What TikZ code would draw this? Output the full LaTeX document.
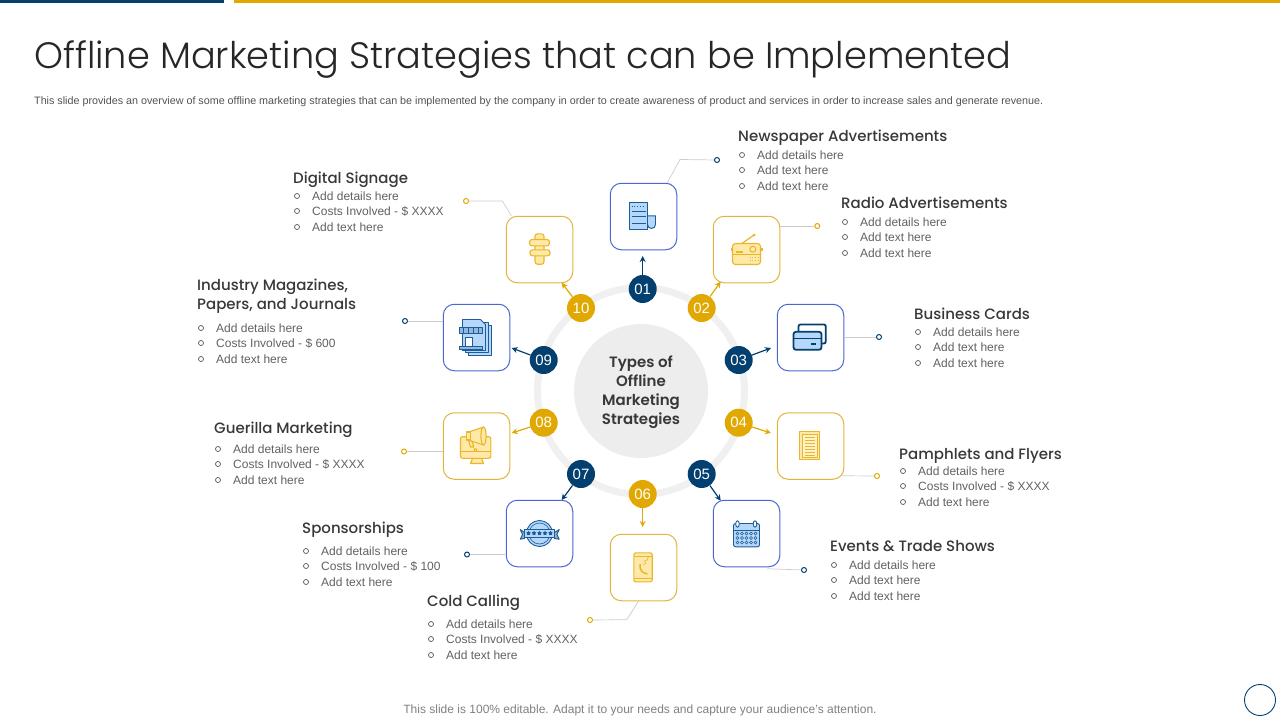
\documentclass[tikz,border=0pt]{standalone}
\usepackage{fontspec}
\setmainfont{Liberation Sans}
\newfontfamily\titlefont{Poppins Light}
\newfontfamily\headfont{Poppins Medium}
\newfontfamily\middlefont{Poppins SemiBold}
\usetikzlibrary{arrows.meta,shapes.geometric}

\definecolor{navy}{HTML}{03406F}
\definecolor{gold}{HTML}{E0A800}
\definecolor{iconblue}{HTML}{B5D8FA}
\definecolor{iconline}{HTML}{1C5C98}
\definecolor{iconyellow}{HTML}{FFE9A8}
\definecolor{iconedge}{HTML}{EAB62A}
\definecolor{tileblue}{HTML}{4B67D1}
\definecolor{tilegold}{HTML}{E3B43C}

\tikzset{
  tile/.style={draw, rounded corners=11pt, minimum size=66.5pt, line width=1pt, fill=white},
  bluetile/.style={tile, draw=tileblue},
  goldtile/.style={tile, draw=tilegold},
  badge/.style={circle, minimum size=28pt, inner sep=0pt, text=white, font=\fontsize{15}{15}\selectfont},
  navybadge/.style={badge, fill=navy},
  goldbadge/.style={badge, fill=gold},
  navyarrow/.style={draw=navy, line width=1.2pt, -{Stealth[length=6pt,width=6pt]}},
  goldarrow/.style={draw=gold, line width=1.2pt, -{Stealth[length=6pt,width=6pt]}},
  leader/.style={draw=black!20, line width=.7pt},
  navydot/.style={circle, draw=navy, fill=white, line width=1pt, minimum size=5pt, inner sep=0pt},
  golddot/.style={circle, draw=gold, fill=white, line width=1pt, minimum size=5pt, inner sep=0pt},
  heading/.style={anchor=base west, inner sep=0pt, text=black!78, font=\headfont\fontsize{15}{19}\selectfont},
  itemtext/.style={anchor=base west, inner sep=0pt, text=black!62, font=\fontsize{12}{14}\selectfont},
  itemdot/.style={circle, draw=black!66, line width=.7pt, minimum size=5pt, inner sep=0pt},
  blueicon/.style={draw=iconline, fill=iconblue, line width=.9pt, line join=round},
  goldicon/.style={draw=iconedge, fill=iconyellow, line width=1.1pt, line join=round},
}
\newcommand{\itemrow}[4]{%
  \node[itemdot] (#1d) at (#2-15,#3) {};
  \node[itemtext] (#1) at (#2,#3+4.3) {#4};
}

\begin{document}
\begin{tikzpicture}[x=1pt,y=-1pt]
  \useasboundingbox (0,0) rectangle (1280,720);
  \fill[navy] (0,0) rectangle (224,3);
  \fill[gold] (234,0) rectangle (1280,3);
  \node[anchor=west, inner sep=0pt, text=black!85, font=\titlefont\fontsize{36.75}{40}\selectfont] (title) at (34,59.5) {Offline Marketing Strategies that can be Implemented};
  \node[anchor=west, inner sep=0pt, text=black!68, font=\fontsize{10.75}{12}\selectfont] (subtitle) at (34,101.5) {This slide provides an overview of some offline marketing strategies that can be implemented  by the company in order to create awareness of product and services in order to increase sales and generate revenue.};

  % ring and middle
  \draw[black!6, line width=7pt] (641,391) circle (103.5);
  \node[circle, fill=black!7, minimum size=134pt, inner sep=0pt] (middle) at (641,391) {};
  \node[inner sep=0pt, align=center, text=black!78, font=\middlefont\fontsize{15}{19}\selectfont] (middletext) at (641,392.5) {Types of\\Offline\\Marketing\\Strategies};

  % tiles
  \node[bluetile] (tile01) at (643.5,216.5) {};
  \node[goldtile] (tile02) at (746.5,249.5) {};
  \node[bluetile] (tile03) at (810.5,337.5) {};
  \node[goldtile] (tile04) at (810.5,446) {};
  \node[bluetile] (tile05) at (746.5,533.5) {};
  \node[goldtile] (tile06) at (643.5,567.5) {};
  \node[bluetile] (tile07) at (539.5,533.5) {};
  \node[goldtile] (tile08) at (476.5,446) {};
  \node[bluetile] (tile09) at (476.5,337.5) {};
  \node[goldtile] (tile10) at (539.5,249.5) {};

  % badges
  \node[navybadge] (num01) at (642.7,289) {01};
  \node[goldbadge] (num02) at (701.7,308) {02};
  \node[navybadge] (num03) at (738.7,360) {03};
  \node[goldbadge] (num04) at (738.7,422.7) {04};
  \node[navybadge] (num05) at (701.7,474) {05};
  \node[goldbadge] (num06) at (642.7,494) {06};
  \node[navybadge] (num07) at (581,474) {07};
  \node[goldbadge] (num08) at (543.7,422.7) {08};
  \node[navybadge] (num09) at (543.7,360) {09};
  \node[goldbadge] (num10) at (581,308) {10};

  % arrows
  \coordinate (tip01) at (642.7,256);
  \coordinate (tip02) at (720.7,281.7);
  \coordinate (tip03) at (771,348);
  \coordinate (tip04) at (771,433);
  \coordinate (tip05) at (720.7,500.7);
  \coordinate (tip06) at (642.7,527);
  \coordinate (tip07) at (561.7,500);
  \coordinate (tip08) at (511.7,433);
  \coordinate (tip09) at (511.7,348);
  \coordinate (tip10) at (561.7,282.7);
  \draw[navyarrow] (num01) -- (tip01);
  \draw[goldarrow] (num02) -- (tip02);
  \draw[navyarrow] (num03) -- (tip03);
  \draw[goldarrow] (num04) -- (tip04);
  \draw[navyarrow] (num05) -- (tip05);
  \draw[goldarrow] (num06) -- (tip06);
  \draw[navyarrow] (num07) -- (tip07);
  \draw[goldarrow] (num08) -- (tip08);
  \draw[navyarrow] (num09) -- (tip09);
  \draw[goldarrow] (num10) -- (tip10);

  % leaders
  \node[navydot] (dot01) at (717,160) {};
  \node[golddot] (dot02) at (817.3,226) {};
  \node[navydot] (dot03) at (879,337) {};
  \node[golddot] (dot04) at (877,476) {};
  \node[navydot] (dot05) at (804,570) {};
  \node[golddot] (dot06) at (590,620) {};
  \node[navydot] (dot07) at (467,554.5) {};
  \node[golddot] (dot08) at (404,451.5) {};
  \node[navydot] (dot09) at (405,321) {};
  \node[golddot] (dot10) at (466,201) {};
  \draw[leader] (tile01.north east) ++(-10,0) -- (680,159.5) -- (dot01);
  \draw[leader] (tile02.east |- dot02) -- (dot02);
  \draw[leader] (tile03.east |- dot03) -- (dot03);
  \draw[leader] (tile04.south east) ++(-4,-4) -- (dot04);
  \draw[leader] (tile05.south east) ++(-13,1.5) -- (dot05);
  \draw[leader] (tile06.south) ++(-5,0) -- (626.7,619.7) -- (dot06);
  \draw[leader] (tile07.west |- dot07) ++(-1,0) -- (dot07);
  \draw[leader] (tile08.west |- dot08) -- (dot08);
  \draw[leader] (tile09.west |- dot09) -- (dot09);
  \draw[leader] (tile10.north west) ++(5.7,0) -- (502.3,201) -- (dot10);

  % text blocks
  \node[heading] (head01) at (738,141.7) {Newspaper Advertisements};
  \itemrow{a1}{757}{155}{Add details here}
  \itemrow{a2}{757}{170}{Add text here}
  \itemrow{a3}{757}{186}{Add text here}
  \node[heading] (head02) at (841,208) {Radio Advertisements};
  \itemrow{b1}{860}{222}{Add details here}
  \itemrow{b2}{860}{237}{Add text here}
  \itemrow{b3}{860}{253}{Add text here}
  \node[heading] (head03) at (914,319) {Business Cards};
  \itemrow{c1}{933}{332}{Add details here}
  \itemrow{c2}{933}{347}{Add text here}
  \itemrow{c3}{933}{363}{Add text here}
  \node[heading] (head04) at (899,459) {Pamphlets and Flyers};
  \itemrow{d1}{918}{471}{Add details here}
  \itemrow{d2}{918}{486}{Costs Involved - \$ XXXX}
  \itemrow{d3}{918}{502}{Add text here}
  \node[heading] (head05) at (830,551) {Events \& Trade Shows};
  \itemrow{e1}{849}{565}{Add details here}
  \itemrow{e2}{849}{580}{Add text here}
  \itemrow{e3}{849}{596}{Add text here}
  \node[heading] (head06) at (427,606) {Cold Calling};
  \itemrow{f1}{446}{624}{Add details here}
  \itemrow{f2}{446}{639}{Costs Involved - \$ XXXX}
  \itemrow{f3}{446}{655}{Add text here}
  \node[heading] (head07) at (302,533) {Sponsorships};
  \itemrow{g1}{321}{551}{Add details here}
  \itemrow{g2}{321}{566}{Costs Involved - \$ 100}
  \itemrow{g3}{321}{582}{Add text here}
  \node[heading] (head08) at (214,433) {Guerilla Marketing};
  \itemrow{h1}{233}{449}{Add details here}
  \itemrow{h2}{233}{464}{Costs Involved - \$ XXXX}
  \itemrow{h3}{233}{480}{Add text here}
  \node[heading] (head09) at (197,290) {Industry Magazines,};
  \node[heading] (head09b) at (197,309) {Papers, and Journals};
  \itemrow{i1}{216}{328}{Add details here}
  \itemrow{i2}{216}{343}{Costs Involved - \$ 600}
  \itemrow{i3}{216}{359}{Add text here}
  \node[heading] (head10) at (293,183) {Digital Signage};
  \itemrow{j1}{312}{196}{Add details here}
  \itemrow{j2}{312}{211}{Costs Involved - \$ XXXX}
  \itemrow{j3}{312}{227}{Add text here}

  % footer
  \node[inner sep=0pt, text=black!50, font=\fontsize{12}{14}\selectfont] (footer) at (640,710) {This slide is 100\% editable. Adapt it to your needs and capture your audience's attention.};
  \node[circle, draw=navy, line width=.9pt, minimum size=31pt, inner sep=0pt] (corner) at (1260,700) {};

  % icon 01 newspaper
  \begin{scope}[shift={(tile01.center)}]
    \draw[blueicon] (4,-.7) -- (12,-.7) -- (12,8) arc[start angle=0, end angle=180, radius=4] -- cycle;
    \draw[blueicon] (-14,-14) rectangle (4.3,12.7);
    \foreach \y in {-5,0,7} \draw[iconline, line width=.8pt] (-12,\y) -- (2,\y);
    \draw[iconline, line width=.8pt, dotted] (-12,-10) -- (2,-10);
  \end{scope}
  % icon 02 radio
  \begin{scope}[shift={(tile02.center)}]
    \draw[iconedge, line width=1.2pt] (-4.6,-6) -- (7.6,-14.5);
    \fill[iconedge] (7.6,-14.5) circle (1.4);
    \fill[iconedge] (-16,-2) rectangle (16,1);
    \draw[goldicon, rounded corners=3pt] (-14,-6) rectangle (14,15);
    \draw[iconedge, line width=.7pt] (-14,5) -- (14,5);
    \draw[goldicon] (6.3,-.3) circle (3);
    \fill[iconedge] (-11,1) rectangle (-4,3.5);
    \draw[iconedge, line width=.7pt, dotted] (3,8) -- (12,8) (3,11) -- (12,11);
  \end{scope}
  % icon 03 cards
  \begin{scope}[shift={(tile03.center)}]
    \draw[navy, line width=1.8pt, rounded corners=2pt] (-12,-6) -- (-12,-13) -- (15.3,-13) -- (15.3,6) -- (11,6);
    \draw[draw=navy, fill=iconblue, line width=1.8pt, rounded corners=2.5pt] (-17,-5.7) rectangle (11,12.3);
    \draw[navy, line width=1.8pt] (-17,1) -- (11,1);
    \draw[navy, line width=1.8pt] (0,6.7) -- (5.5,6.7);
  \end{scope}
  % icon 04 pamphlet
  \begin{scope}[shift={(tile04.center)}]
    \draw[goldicon] (-11,-14.7) rectangle (9.3,13.7);
    \draw[goldicon, fill=iconyellow!60, line width=.8pt] (-8.5,-12) rectangle (6.8,11);
    \foreach \y in {-9,-6,-3,0,3,6,9} \draw[iconedge, line width=.8pt] (-6,\y) -- (4.5,\y);
  \end{scope}
  % icon 05 calendar
  \begin{scope}[shift={(tile05.center)}]
    \draw[blueicon, rounded corners=2pt] (-13,-10) rectangle (13,13.3);
    \draw[iconline, line width=.9pt] (-13,-3.5) -- (13,-3.5);
    \draw[blueicon, fill=white] (-9,-9.5) ellipse (1.8 and 3.2);
    \draw[blueicon, fill=white] (8.5,-9.5) ellipse (1.8 and 3.2);
    \foreach \y in {0,4.5,9} \foreach \x in {-9,-4.5,0,4.5,9}
      \draw[iconline, line width=.6pt] (\x,\y) circle (1.5);
  \end{scope}
  % icon 06 phone
  \begin{scope}[shift={(tile06.center)}]
    \draw[goldicon, rounded corners=2pt] (-9.7,-14.7) rectangle (8.7,14.3);
    \draw[iconedge, line width=.8pt] (-9.7,-11) -- (8.7,-11) (-9.7,10.5) -- (8.7,10.5);
    \draw[iconedge, line width=1.5pt] (-3.5,-3.5) .. controls (-4.5,2) and (-1,6) .. (4,6.5);
    \draw[iconedge, line width=.7pt] (0,-6) arc[start angle=90, end angle=0, radius=5];
    \draw[iconedge, line width=.7pt] (0,-3) arc[start angle=90, end angle=0, radius=2.5];
  \end{scope}
  % icon 07 badge
  \begin{scope}[shift={(tile07.center)}]
    \draw[blueicon] (0,0) circle (13);
    \draw[iconline, line width=.6pt] (0,0) circle (10.5);
    \draw[blueicon, fill=iconblue!80!black] (-19.3,-4) -- (-15,-1) -- (-15,5) -- (-19.3,5.7) -- (-17,1) -- cycle;
    \draw[blueicon, fill=iconblue!80!black] (19.7,-4) -- (15,-1) -- (15,5) -- (19.7,5.7) -- (17.4,1) -- cycle;
    \draw[blueicon] (-15,-4) -- (15,-4) -- (15,3.5) -- (-15,3.5) -- cycle;
    \foreach \x in {-11,-5.5,0,5.5,11} \node[star, star points=5, fill=iconline, inner sep=0pt, minimum size=4.5pt] at (\x,-.3) {};
  \end{scope}
  % icon 08 monitor
  \begin{scope}[shift={(tile08.center)}]
    \draw[goldicon] (-4,12.3) -- (5,12.3) -- (7,17.5) -- (-6,17.5) -- cycle;
    \draw[goldicon, rounded corners=2pt] (-16,-9.3) rectangle (14.3,12.3);
    \draw[iconedge, line width=.8pt] (-16,5) -- (14.3,5);
    \draw[goldicon, fill=white] (-1,4) circle (1.6);
    \draw[goldicon] (-8,-14) -- (7,-19) -- (7,-1) -- (-8,-6) -- cycle;
    \draw[goldicon] (-10,-14) rectangle (-6,-6);
    \draw[goldicon] (-8,-6) -- (-4,-4) -- (-3,1) -- (-6,1) -- cycle;
    \draw[goldicon] (7,-10) ellipse (2.6 and 9);
  \end{scope}
  % icon 09 shop
  \begin{scope}[shift={(tile09.center)}]
    \draw[blueicon] (-8,-12) rectangle (15,17.7);
    \draw[blueicon] (-11,-15) rectangle (12,15);
    \draw[blueicon] (-14,-18) -- (4,-18) -- (9,-13) -- (9,13) -- (-14,13) -- cycle;
    \draw[blueicon, fill=iconblue!75!iconline] (-17,-10.5) rectangle (6,-4);
    \foreach \x in {-13,-8,-3,2} \draw[iconline, line width=.8pt] (\x,-10.5) -- (\x,-4);
    \draw[blueicon, fill=white] (-11,0) rectangle (-4,9);
    \draw[blueicon, fill=iconblue!75!iconline] (-17,9) rectangle (6,12);
  \end{scope}
  % icon 10 signpost
  \begin{scope}[shift={(tile10.center)}]
    \draw[goldicon, rounded corners=2.5pt] (-4.5,-15.7) rectangle (4.5,14.7);
    \draw[goldicon, rounded corners=2.5pt] (-10,-10) rectangle (10,-3.7);
    \draw[goldicon, rounded corners=2.5pt] (-9.5,.3) rectangle (10.5,6.3);
  \end{scope}
\end{tikzpicture}
\end{document}
